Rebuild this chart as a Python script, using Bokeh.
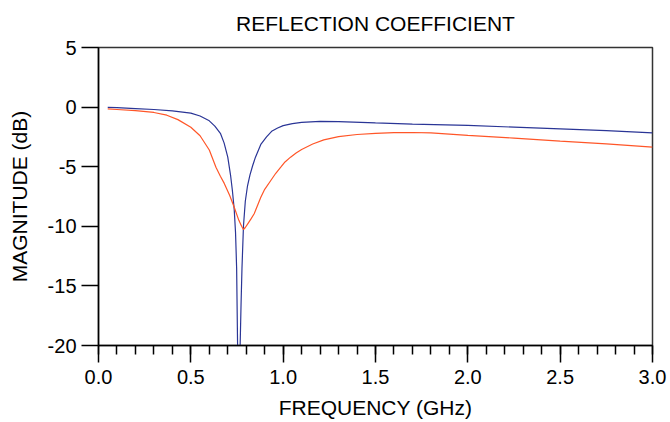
from bokeh.plotting import figure
from bokeh.models import Range1d, FixedTicker, LinearAxis
from bokeh.embed import file_html
from bokeh.resources import INLINE

# ---- data ----
blue_f = [0.05, 0.10, 0.20, 0.30, 0.40, 0.50, 0.55, 0.60, 0.63, 0.66, 0.68, 0.70,
          0.715, 0.725, 0.735, 0.742, 0.748, 0.753, 0.760, 0.767, 0.772, 0.777,
          0.785, 0.795, 0.807, 0.82, 0.835, 0.85, 0.88, 0.91, 0.94, 0.97, 1.00,
          1.05, 1.10, 1.20, 1.30, 1.50, 1.70, 2.00, 2.25, 2.50, 2.75, 3.00]
blue_db = [-0.02, -0.05, -0.12, -0.20, -0.32, -0.51, -0.75, -1.15, -1.60, -2.20, -3.00, -4.20,
           -5.70, -7.00, -8.60, -10.5, -13.5, -19.8, -26.0, -20.0, -16.5, -13.5,
           -10.0, -7.9, -6.6, -5.7, -4.9, -4.2, -3.1, -2.5, -2.0, -1.75, -1.55,
           -1.38, -1.28, -1.20, -1.22, -1.33, -1.42, -1.54, -1.68, -1.82, -1.98, -2.16]

red_f = [0.05, 0.10, 0.20, 0.30, 0.37, 0.43, 0.50, 0.55, 0.60, 0.636, 0.66, 0.681, 0.71,
         0.735, 0.76, 0.775, 0.785, 0.795, 0.81, 0.825, 0.843, 0.86, 0.879, 0.90, 0.933,
         0.96, 0.987, 1.01, 1.04, 1.07, 1.10, 1.16, 1.22, 1.30, 1.40, 1.50, 1.60, 1.70,
         1.80, 2.00, 2.25, 2.50, 2.75, 3.00]
red_db = [-0.15, -0.20, -0.30, -0.45, -0.68, -1.05, -1.69, -2.40, -3.60, -5.04, -5.80, -6.40, -7.40,
          -8.40, -9.50, -10.0, -10.27, -10.1, -9.75, -9.40, -8.95, -8.30, -7.56, -6.90, -6.16,
          -5.55, -5.04, -4.60, -4.20, -3.85, -3.55, -3.10, -2.75, -2.48, -2.30, -2.20, -2.14, -2.13,
          -2.17, -2.38, -2.60, -2.86, -3.08, -3.36]

x_ticks = [0.0, 0.5, 1.0, 1.5, 2.0, 2.5, 3.0]
x_tick_labels = ["0.0", "0.5", "1.0", "1.5", "2.0", "2.5", "3.0"]
y_ticks = [-20, -15, -10, -5, 0, 5]
y_tick_labels = ["-20", "-15", "-10", "-5", "0", "5"]

FONT = "Liberation Sans"

p = figure(width=670, height=422, output_backend="svg", toolbar_location=None,
           x_range=Range1d(0, 3), y_range=Range1d(-20, 5),
           x_axis_type=None, y_axis_type=None,
           min_border_left=98, min_border_right=18, min_border_top=47, min_border_bottom=77)

p.title.text = "REFLECTION COEFFICIENT"
p.title.align = "center"
p.title.vertical_align = "top"
p.title.text_font = FONT
p.title.text_font_size = "21px"
p.title.text_font_style = "normal"
p.title.text_color = "black"
p.title.standoff = 22

xaxis = LinearAxis(ticker=FixedTicker(ticks=x_ticks,
                                      minor_ticks=[i / 10 for i in range(0, 31)]),
                   major_label_overrides={t: s for t, s in zip(x_ticks, x_tick_labels)})
xaxis.axis_label = "FREQUENCY (GHz)"
p.add_layout(xaxis, "below")

yaxis = LinearAxis(ticker=FixedTicker(ticks=y_ticks, minor_ticks=[]),
                   major_label_overrides={t: s for t, s in zip(y_ticks, y_tick_labels)})
yaxis.axis_label = "MAGNITUDE (dB)"
p.add_layout(yaxis, "left")

for ax in (xaxis, yaxis):
    ax.axis_line_color = "black"
    ax.axis_line_width = 1.5
    ax.major_tick_line_color = "black"
    ax.major_tick_line_width = 1.5
    ax.major_tick_in = 0
    ax.major_tick_out = 17
    ax.minor_tick_line_color = "black"
    ax.minor_tick_line_width = 1.5
    ax.minor_tick_in = 0
    ax.minor_tick_out = 9
    ax.major_label_text_font = FONT
    ax.major_label_text_font_size = "20px"
    ax.major_label_text_color = "black"
    ax.axis_label_text_font = FONT
    ax.axis_label_text_font_size = "21px"
    ax.axis_label_text_font_style = "normal"
    ax.axis_label_text_color = "black"

xaxis.major_label_standoff = 7
xaxis.axis_label_standoff = 9
yaxis.major_label_standoff = 5
yaxis.axis_label_standoff = 14

p.xgrid.ticker = FixedTicker(ticks=x_ticks)
p.ygrid.ticker = FixedTicker(ticks=y_ticks)
for g in (p.xgrid, p.ygrid):
    g.grid_line_color = "#d0d0d0"
    g.grid_line_width = 1.5

p.outline_line_color = "#333333"
p.outline_line_width = 1.5
p.background_fill_color = "white"
p.border_fill_color = "white"

p.line(blue_f, blue_db, line_color="#2a3596", line_width=1.2)
p.line(red_f, red_db, line_color="#ff5628", line_width=1.2)

open("out.html", "w").write(file_html(p, INLINE))
